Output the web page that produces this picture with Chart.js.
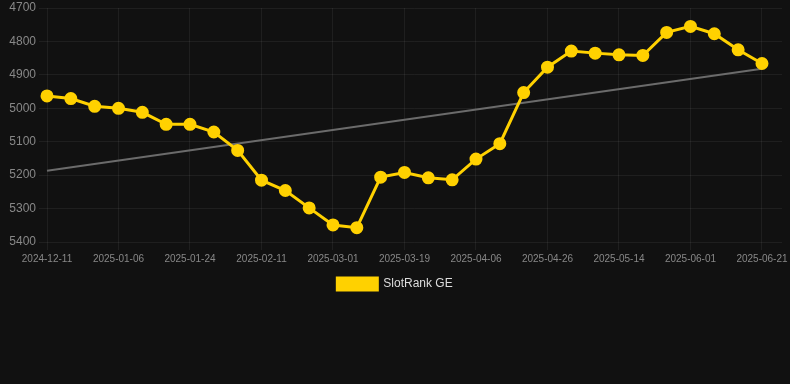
<!DOCTYPE html>
<html>
<head>
<meta charset="utf-8">
<script src="https://cdn.jsdelivr.net/npm/chart.js@4.4.1/dist/chart.umd.min.js"></script>
<style>
  html, body { margin: 0; padding: 0; background: #111111; }
  #wrap { position: relative; width: 790px; height: 300px; }
</style>
</head>
<body>
<div id="wrap"><canvas id="chart"></canvas></div>
<script>
const dates = [
  '2024-12-11', '2024-12-20', '2024-12-28', '2025-01-06', '2025-01-12', '2025-01-18',
  '2025-01-24', '2025-01-30', '2025-02-05', '2025-02-11', '2025-02-17', '2025-02-23',
  '2025-03-01', '2025-03-07', '2025-03-13', '2025-03-19', '2025-03-25', '2025-03-31',
  '2025-04-06', '2025-04-13', '2025-04-20', '2025-04-26', '2025-05-02', '2025-05-08',
  '2025-05-14', '2025-05-20', '2025-05-26', '2025-06-01', '2025-06-08', '2025-06-14',
  '2025-06-21'
];
const rankValues = [
  4963, 4971, 4994, 5000, 5012, 5048, 5048, 5071, 5126, 5215, 5246,
  5298, 5349, 5357, 5206, 5192, 5208, 5214, 5152, 5106, 4953, 4877,
  4829, 4835, 4840, 4842, 4773, 4755, 4777, 4825, 4866
];
const trendIndex = [0, 30];
const trendValues = [5187, 4882];
const yTicks = [4700, 4800, 4900, 5000, 5100, 5200, 5300, 5400];
const xTickIndex = [0, 3, 6, 9, 12, 15, 18, 21, 24, 27, 30];

const YELLOW = '#FFD100';
const GRID = 'rgba(255,255,255,0.06)';

new Chart(document.getElementById('chart').getContext('2d'), {
  type: 'line',
  data: {
    datasets: [
      {
        label: 'SlotRank GE',
        data: rankValues.map((v, i) => ({ x: i, y: v })),
        borderColor: YELLOW,
        backgroundColor: YELLOW,
        borderWidth: 3,
        pointRadius: 5,
        pointHoverRadius: 5,
        tension: 0,
        fill: false,
        clip: false
      },
      {
        // linia de tendencia, sense entrada a la llegenda
        label: 'trend',
        data: trendIndex.map((x, i) => ({ x: x, y: trendValues[i] })),
        borderColor: '#6b6b6b',
        borderWidth: 2,
        pointRadius: 0,
        fill: false,
        clip: false
      }
    ]
  },
  options: {
    responsive: true,
    maintainAspectRatio: false,
    animation: false,
    plugins: {
      legend: {
        position: 'bottom',
        labels: {
          color: '#dddddd',
          font: { size: 12 },
          filter: (item) => item.text !== 'trend'
        }
      },
      tooltip: { enabled: false }
    },
    scales: {
      x: {
        type: 'linear',
        min: 0,
        max: 30.84,
        afterBuildTicks: (axis) => {
          axis.ticks = xTickIndex.map((v) => ({ value: v }));
        },
        afterFit: (axis) => {
          axis.paddingRight = 0;
        },
        ticks: {
          color: '#888888',
          font: { size: 10 },
          maxRotation: 0,
          autoSkip: false,
          callback: (v) => dates[v] || ''
        },
        grid: { color: GRID },
        border: { display: false }
      },
      y: {
        reverse: true,
        min: 4700,
        max: 5400,
        afterBuildTicks: (axis) => {
          axis.ticks = yTicks.map((v) => ({ value: v }));
        },
        afterFit: (axis) => {
          axis.width = 47;
          axis.paddingTop = 6;
        },
        ticks: {
          color: '#888888',
          font: { size: 12 },
          callback: (v) => String(v)
        },
        grid: { color: GRID },
        border: { display: false }
      }
    }
  }
});
</script>
</body>
</html>
